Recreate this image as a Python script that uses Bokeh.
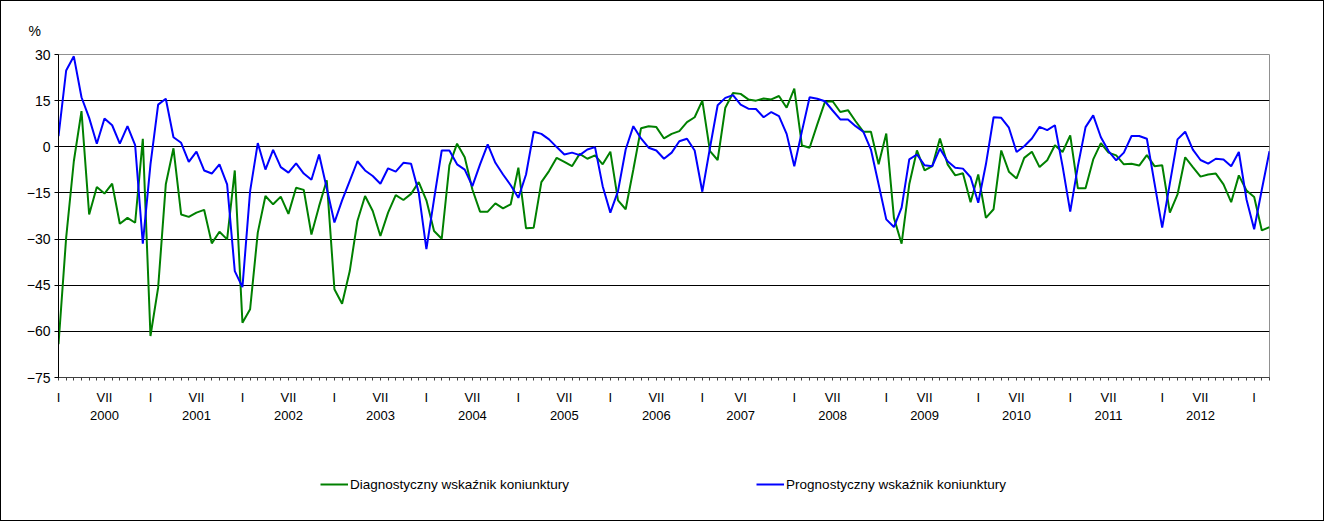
from bokeh.plotting import figure
from bokeh.models import Range1d, FixedTicker, LinearAxis, Legend, LegendItem
from bokeh.layouts import column
from bokeh.embed import file_html
from bokeh.resources import INLINE

# ---- data: monthly, Jan 2000 .. Mar 2013 ----
start_year = 2000
n_months = 159
months = list(range(n_months))

diag = [
    -64.2, -29.5, -4.7, 11.6, -22.0, -13.1, -15.2, -12.0, -25.0, -23.1, -24.7, 2.6,
    -61.5, -45.8, -12.2, -0.5, -22.0, -22.8, -21.4, -20.5, -31.4, -27.6, -30.1, -7.7,
    -57.2, -52.8, -27.9, -16.0, -18.7, -16.2, -21.8, -13.3, -14.0, -28.5, -19.3, -10.9,
    -46.3, -51.0, -40.4, -24.1, -16.0, -20.9, -29.0, -21.4, -15.7, -17.3, -15.3, -11.5,
    -17.4, -27.4, -29.9, -6.0, 1.0, -3.4, -13.9, -21.1, -21.1, -18.4, -20.0, -18.7,
    -6.8, -26.5, -26.3, -11.5, -7.9, -3.6, -4.9, -6.3, -2.3, -3.9, -2.8, -5.7,
    -1.6, -17.4, -20.3, -7.4, 6.0, 6.7, 6.4, 2.7, 4.2, 5.1, 8.0, 9.6,
    15.0, -1.4, -4.3, 12.7, 17.5, 17.2, 15.4, 15.0, 15.7, 15.4, 16.5, 12.7,
    18.9, 0.4, -0.3, 7.3, 14.6, 14.8, 11.3, 11.9, 8.3, 4.9, 4.9, -5.7,
    4.3, -23.1, -31.5, -12.2, -1.2, -7.7, -6.3, 2.7, -5.7, -9.3, -8.6, -18.0,
    -9.0, -23.1, -20.3, -1.2, -8.1, -10.3, -3.6, -1.6, -6.6, -4.4, 0.5, -1.7,
    3.7, -13.5, -13.5, -4.1, 1.2, -1.9, -2.8, -5.7, -5.5, -6.1, -2.7, -6.3,
    -6.0, -21.4, -15.5, -3.4, -6.6, -9.7, -9.0, -8.7, -12.2, -18.0, -9.3, -14.2,
    -16.3, -27.2, -26.1,
]

prog = [
    3.5, 24.8, 29.4, 16.1, 9.4, 1.0, 9.2, 7.0, 1.0, 6.7, 0.5, -31.5,
    -5.7, 13.7, 15.6, 3.1, 1.3, -4.9, -1.6, -7.7, -8.7, -5.7, -12.2, -40.4,
    -45.6, -14.4, 1.2, -7.4, -1.0, -6.6, -8.4, -5.4, -8.7, -10.7, -2.5, -13.5,
    -24.6, -17.4, -11.1, -4.7, -7.7, -9.5, -12.0, -7.0, -8.1, -5.2, -5.5, -14.9,
    -33.3, -17.0, -1.2, -1.2, -5.7, -7.4, -12.8, -5.7, 0.8, -5.2, -9.0, -12.5,
    -16.6, -9.0, 4.9, 4.2, 2.4, -0.1, -2.5, -1.9, -2.7, -0.9, -0.1, -12.8,
    -21.4, -14.4, -0.9, 6.7, 2.7, -0.3, -1.2, -3.9, -1.9, 1.8, 2.6, -1.2,
    -14.6, -0.3, 13.5, 15.9, 16.8, 13.7, 12.4, 12.3, 9.6, 11.3, 10.0, 4.2,
    -6.3, 5.1, 16.1, 15.6, 14.8, 11.8, 8.9, 8.9, 6.7, 4.9, -0.9, -12.2,
    -23.6, -26.1, -19.8, -4.1, -2.5, -6.0, -6.3, -0.6, -4.7, -6.8, -7.1, -9.9,
    -18.2, -5.7, 9.6, 9.4, 6.2, -1.7, 0.2, 2.7, 6.5, 5.4, 7.0, -6.3,
    -21.1, -6.3, 6.4, 10.2, 3.1, -1.4, -4.4, -1.9, 3.5, 3.5, 2.6, -11.9,
    -26.3, -11.9, 2.4, 4.9, -0.9, -4.3, -5.5, -3.9, -4.1, -6.3, -1.7, -17.1,
    -26.8, -13.9, -1.4,
]

year_labels = [str(y) for y in range(2000, 2013)]
mid_labels = ["VII"] * 7 + ["VI"] + ["VII"] * 5
mid_label_month = [7] * 7 + [6] * 6          # month (1..12) that carries the mid-year label
jan_label = "I"
y_ticks = [-75, -60, -45, -30, -15, 0, 15, 30]
unit_label = "%"

series_names = ["Diagnostyczny wskaźnik koniunktury", "Prognostyczny wskaźnik koniunktury"]
colors = ["#008000", "#0000FF"]

FONT = "Liberation Sans"
W = 1322

p = figure(frame_width=1211, frame_height=323, output_backend="svg", toolbar_location=None,
           x_range=Range1d(0, n_months - 1), y_range=Range1d(-75, 30),
           min_border_left=57, min_border_right=54, min_border_top=53, min_border_bottom=70)
p.background_fill_color = "white"
p.border_fill_color = "white"
p.outline_line_color = "#909090"
p.outline_line_width = 1

# unit label as title
p.title.text = unit_label
p.title.align = "left"
p.title.offset = -30
p.title.standoff = 32
p.title.text_font = FONT
p.title.text_font_size = "14px"
p.title.text_font_style = "normal"
p.title.text_color = "black"

g = p.line(months, diag, line_color=colors[0], line_width=2)
b = p.line(months, prog, line_color=colors[1], line_width=2)

# y axis
ya = p.yaxis[0]
ya.ticker = FixedTicker(ticks=y_ticks, minor_ticks=[])
ya.major_tick_out = 4
ya.major_tick_in = 0
ya.major_label_standoff = 4
ya.major_label_text_font = FONT
ya.major_label_text_font_size = "14px"
ya.major_label_text_color = "black"
ya.axis_line_color = "black"
ya.major_tick_line_color = "black"
p.ygrid.ticker = FixedTicker(ticks=y_ticks[1:-1])
p.ygrid.grid_line_color = "black"
p.ygrid.grid_line_width = 1
p.xgrid.grid_line_color = None

# x axis row 1: month ticks with I / VII labels
overrides = {m: "" for m in months}
for i in range(len(year_labels)):
    jan = 12 * i
    overrides[jan] = jan_label
    overrides[jan + mid_label_month[i] - 1] = mid_labels[i]
overrides[12 * len(year_labels)] = jan_label
xa = p.xaxis[0]
xa.ticker = FixedTicker(ticks=months, minor_ticks=[])
xa.major_label_overrides = overrides
xa.major_tick_out = 3
xa.major_tick_in = 0
xa.major_label_standoff = 9
xa.major_label_text_font = FONT
xa.major_label_text_font_size = "13px"
xa.major_label_text_color = "black"
xa.axis_line_color = "#404040"
xa.major_tick_line_color = "#404040"

# x axis row 2: years
year_pos = [12 * i + mid_label_month[i] - 1 for i in range(len(year_labels))]
xa2 = LinearAxis(ticker=FixedTicker(ticks=year_pos, minor_ticks=[]),
                 major_label_overrides={pos: lab for pos, lab in zip(year_pos, year_labels)},
                 axis_line_color=None, major_tick_line_color=None,
                 major_tick_out=0, major_tick_in=0, major_label_standoff=3,
                 major_label_text_font=FONT, major_label_text_font_size="13px",
                 major_label_text_color="black")
p.add_layout(xa2, "below")

# legend strip below the chart (sample lines lie outside the visible range)
main_h = 53 + 323 + 70
lg = figure(width=W, height=519 - main_h, output_backend="svg", toolbar_location=None,
            x_range=Range1d(0, 1), y_range=Range1d(0, 1), min_border=0,
            x_axis_location=None, y_axis_location=None)
lg.outline_line_color = None
lg.grid.grid_line_color = None
lg.background_fill_color = "white"
lg.border_fill_color = "white"
lg_g = lg.line([-5, -4], [-5, -4], line_color=colors[0], line_width=2)
lg_b = lg.line([-5, -4], [-5, -4], line_color=colors[1], line_width=2)

legend = Legend(items=[LegendItem(label=series_names[0], renderers=[lg_g]),
                       LegendItem(label=series_names[1], renderers=[lg_b])],
                orientation="horizontal", location=(262, 26),
                spacing=187, margin=0, padding=0, border_line_color=None,
                background_fill_alpha=0, glyph_width=28, label_standoff=2,
                label_text_font=FONT, label_text_font_size="13.5px", label_text_color="black")
lg.add_layout(legend, "center")

layout = column(p, lg, spacing=0)
layout.styles = {"border": "1px solid #000000"}

open("out.html", "w").write(file_html(layout, INLINE))
